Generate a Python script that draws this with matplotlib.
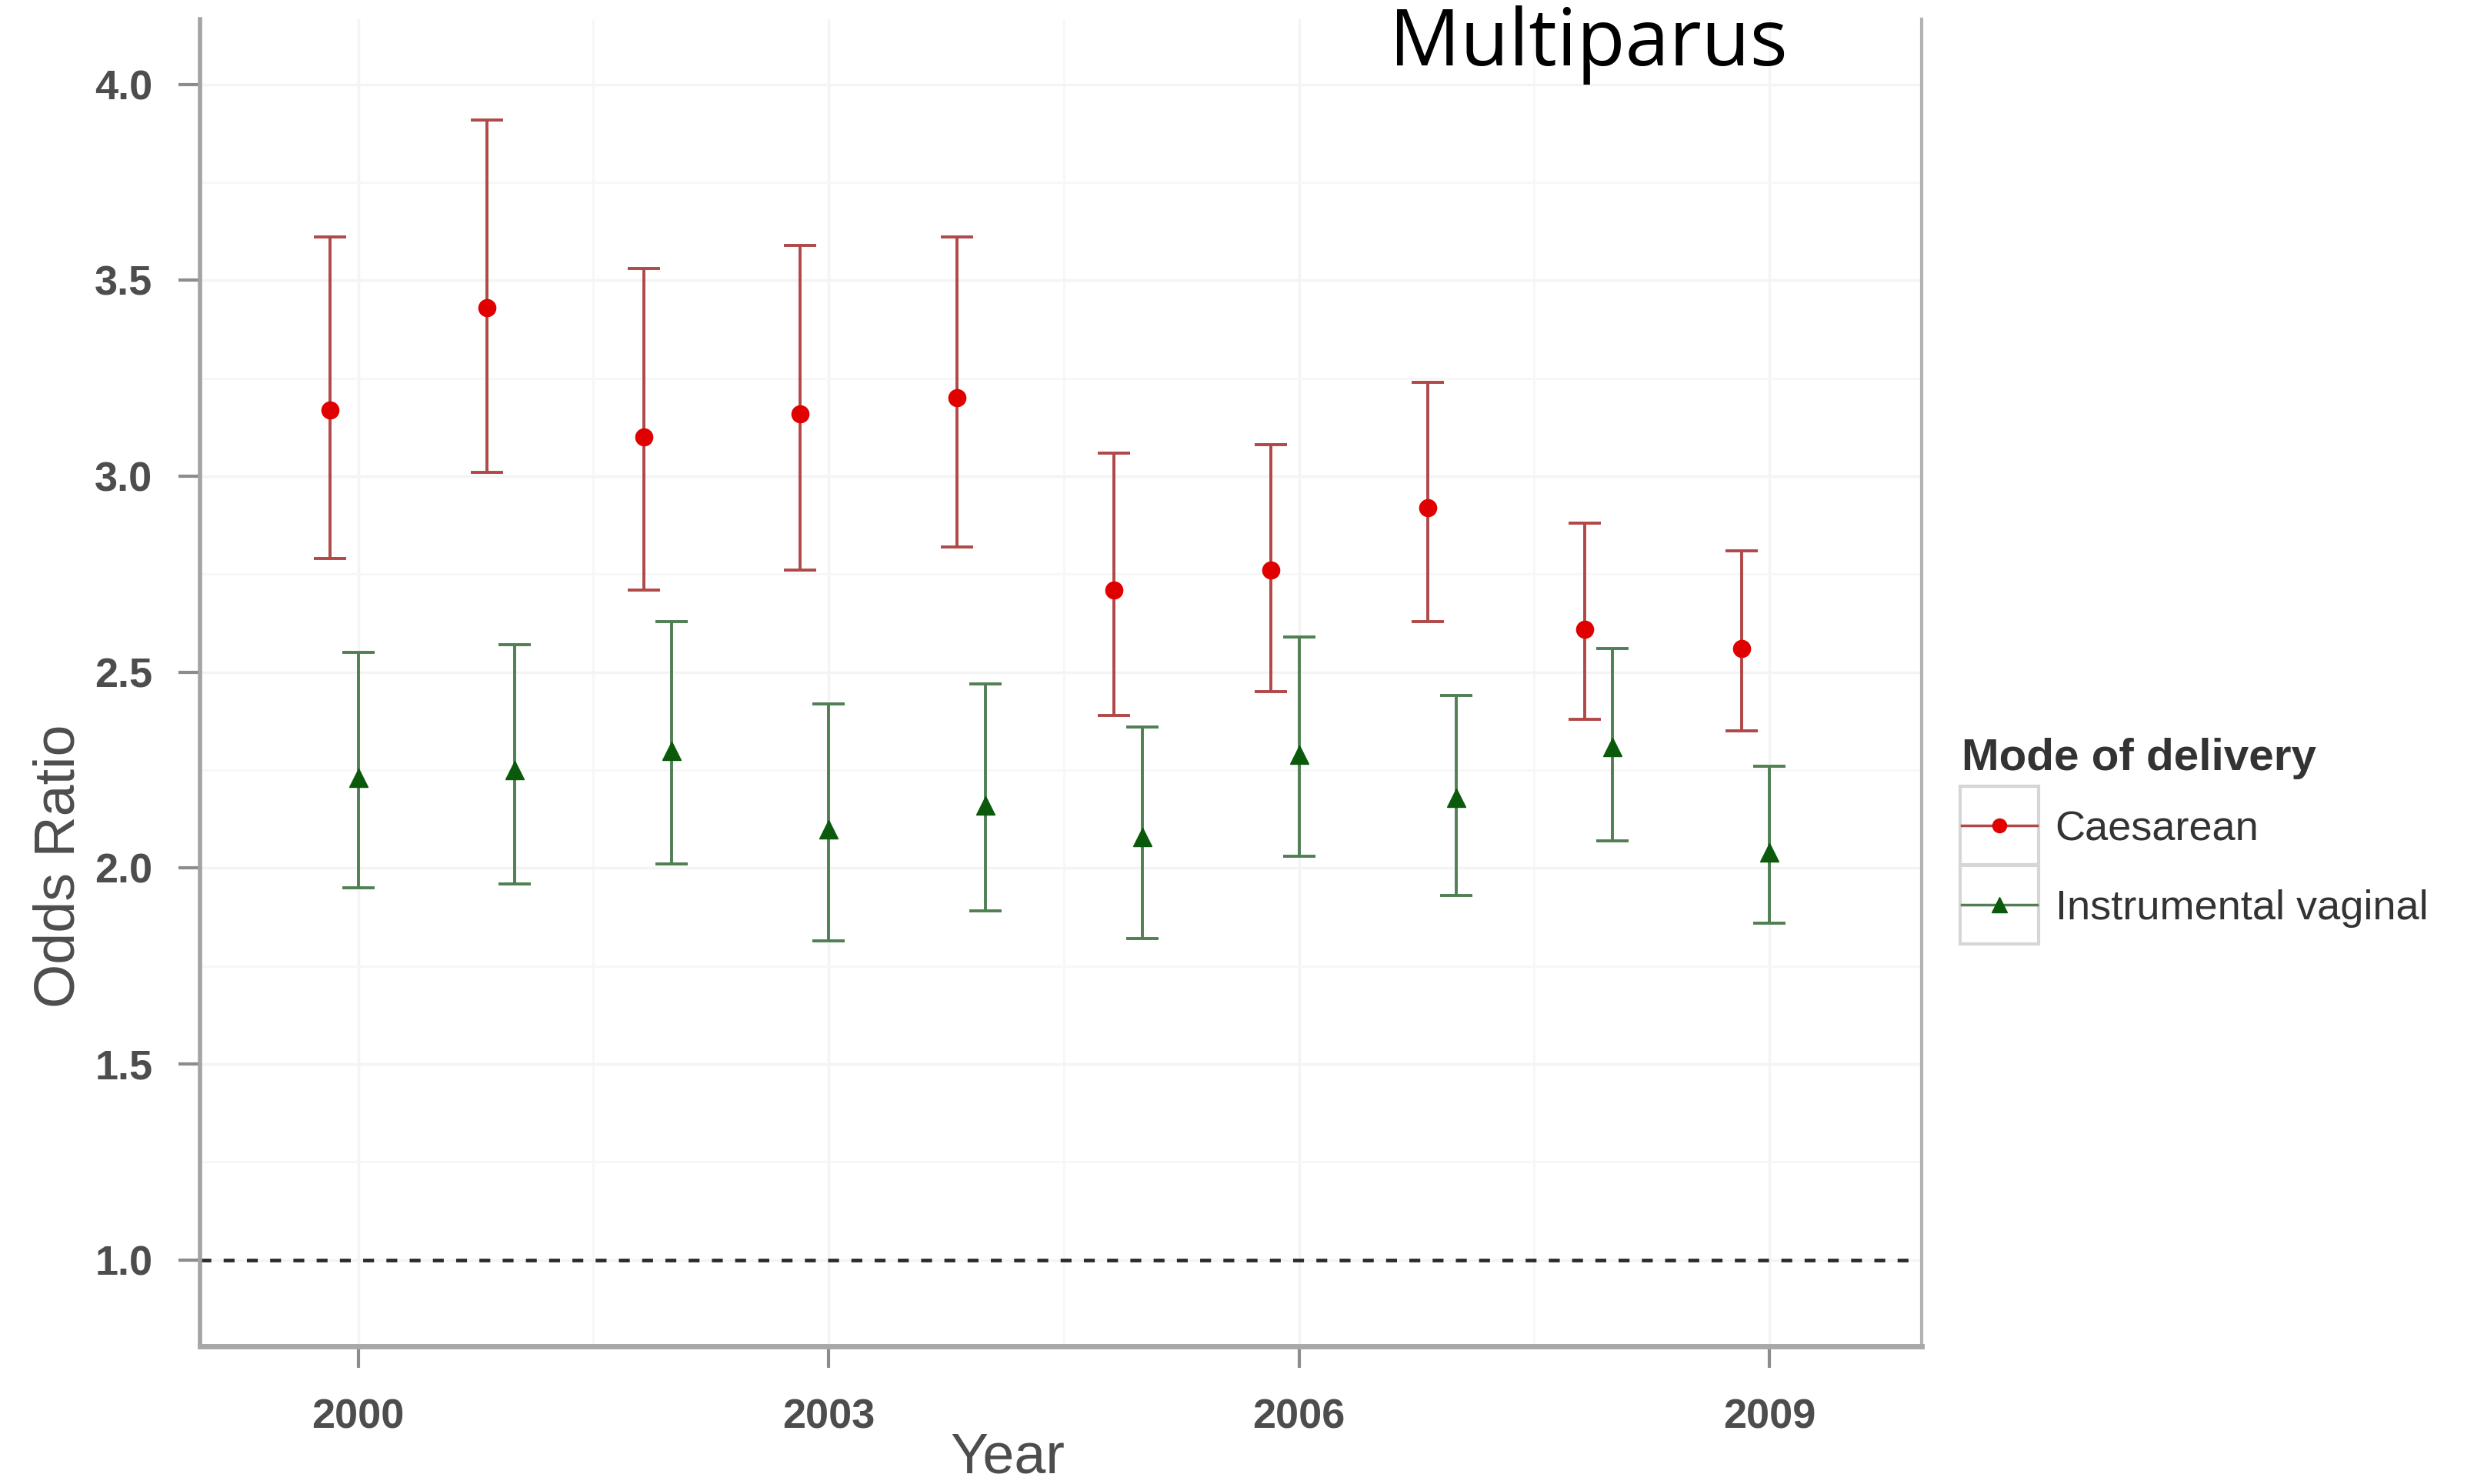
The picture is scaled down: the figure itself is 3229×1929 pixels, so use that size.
import numpy as np
import matplotlib.pyplot as plt
from matplotlib.lines import Line2D
from matplotlib.legend_handler import HandlerTuple

years = [2000, 2001, 2002, 2003, 2004, 2005, 2006, 2007, 2008, 2009]

# Caesarean odds ratio with CI
ces_or = [3.17, 3.43, 3.10, 3.16, 3.20, 2.71, 2.76, 2.92, 2.61, 2.56]
ces_lo = [2.79, 3.01, 2.71, 2.76, 2.82, 2.39, 2.45, 2.63, 2.38, 2.35]
ces_hi = [3.61, 3.91, 3.53, 3.59, 3.61, 3.06, 3.08, 3.24, 2.88, 2.81]

# Instrumental vaginal odds ratio with CI
ins_or = [2.23, 2.25, 2.30, 2.10, 2.16, 2.08, 2.29, 2.18, 2.31, 2.04]
ins_lo = [1.95, 1.96, 2.01, 1.815, 1.89, 1.82, 2.03, 1.93, 2.07, 1.86]
ins_hi = [2.55, 2.57, 2.63, 2.42, 2.47, 2.36, 2.59, 2.44, 2.56, 2.26]

ces_shift = -0.18  # dodge of the caesarean series

ces_pt, ces_bar = '#e00000', '#b04848'
ins_pt, ins_bar = '#0b5a0b', '#4f7f52'
grey = '#4d4d4d'

plt.rcParams['font.family'] = ['Liberation Sans', 'DejaVu Sans']

fig = plt.figure(figsize=(32.29, 19.29), dpi=100)
ax = fig.add_axes([0.0804, 0.0929, 0.6932, 0.894])

x = np.array(years, dtype=float)
ces = np.array(ces_or); ins = np.array(ins_or)
ax.errorbar(x + ces_shift, ces, yerr=[ces - np.array(ces_lo), np.array(ces_hi) - ces],
            fmt='none', ecolor=ces_bar, elinewidth=2.8, capsize=15, capthick=2.8, zorder=3)
ax.plot(x + ces_shift, ces, 'o', color=ces_pt, ms=16, zorder=4)
ax.errorbar(x, ins, yerr=[ins - np.array(ins_lo), np.array(ins_hi) - ins],
            fmt='none', ecolor=ins_bar, elinewidth=2.8, capsize=15, capthick=2.8, zorder=3)
ax.plot(x, ins, '^', color=ins_pt, ms=17, zorder=4)

ax.axhline(1.0, color='#2a2a2a', lw=3.4, ls=(0, (3, 3.4)), zorder=2)

ax.set_xlim(1998.99, 2009.97)
ax.set_ylim(0.78, 4.166)
ax.set_xticks([2000, 2003, 2006, 2009])
ax.set_yticks([1.0, 1.5, 2.0, 2.5, 3.0, 3.5, 4.0])
ax.set_yticklabels(['%.1f' % v for v in ax.get_yticks()])
ax.set_yticks(np.arange(1.25, 4.1, 0.5), minor=True)
ax.set_xticks(np.arange(2001.5, 2009.9, 3), minor=True)
ax.tick_params(axis='both', which='major', labelsize=39, labelcolor=grey, color='#8c8c8c',
               width=3, length=20)
ax.tick_params(axis='y', pad=24)
ax.tick_params(axis='x', pad=29)
ax.tick_params(which='minor', length=0)
for lab in ax.get_xticklabels() + ax.get_yticklabels():
    lab.set_fontweight('bold')

ax.grid(which='major', color='#f4f4f4', lw=2.5)
ax.grid(which='minor', color='#f7f7f7', lw=2)
ax.set_axisbelow(True)

ax.spines['top'].set_visible(False)
ax.spines['left'].set_color('#a3a3a3'); ax.spines['left'].set_linewidth(4)
ax.spines['bottom'].set_color('#a8a8a8'); ax.spines['bottom'].set_linewidth(5)
ax.spines['right'].set_color('#b3b3b3'); ax.spines['right'].set_linewidth(3)

ax.set_xlabel('Year', fontsize=53, color=grey)
ax.set_ylabel('Odds Ratio', fontsize=53, color=grey)
ax.xaxis.set_label_coords(0.469, -0.064)
ax.yaxis.set_label_coords(-0.066, 0.3616)

fig.text(0.6394, 0.956, 'Multiparus', fontsize=74, family='Open Sans', ha='center', va='baseline')

fig.text(0.7897, 0.4813, 'Mode of delivery', fontsize=42, fontweight='bold',
         color='#333333', ha='left', va='baseline')
box = Line2D([], [], ls='none', marker='s', ms=74, mfc='white', mec='#d6d6d6', mew=3)
h1 = Line2D([], [], color=ces_bar, lw=2.5, marker='o', ms=13, mfc=ces_pt, mec=ces_pt)
h2 = Line2D([], [], color=ins_bar, lw=2.5, marker='^', ms=14, mfc=ins_pt, mec=ins_pt)
leg = fig.legend([(box, h1), (box, h2)], ['Caesarean', 'Instrumental vaginal'],
                 handler_map={tuple: HandlerTuple(ndivide=1)},
                 loc='center left', bbox_to_anchor=(0.7747, 0.4144), frameon=False,
                 fontsize=39, borderpad=0.4,
                 handlelength=1.8, handletextpad=0.44, labelspacing=0.98)
for t in leg.get_texts():
    t.set_color('#333333')

fig.savefig('out.png', dpi=100)
